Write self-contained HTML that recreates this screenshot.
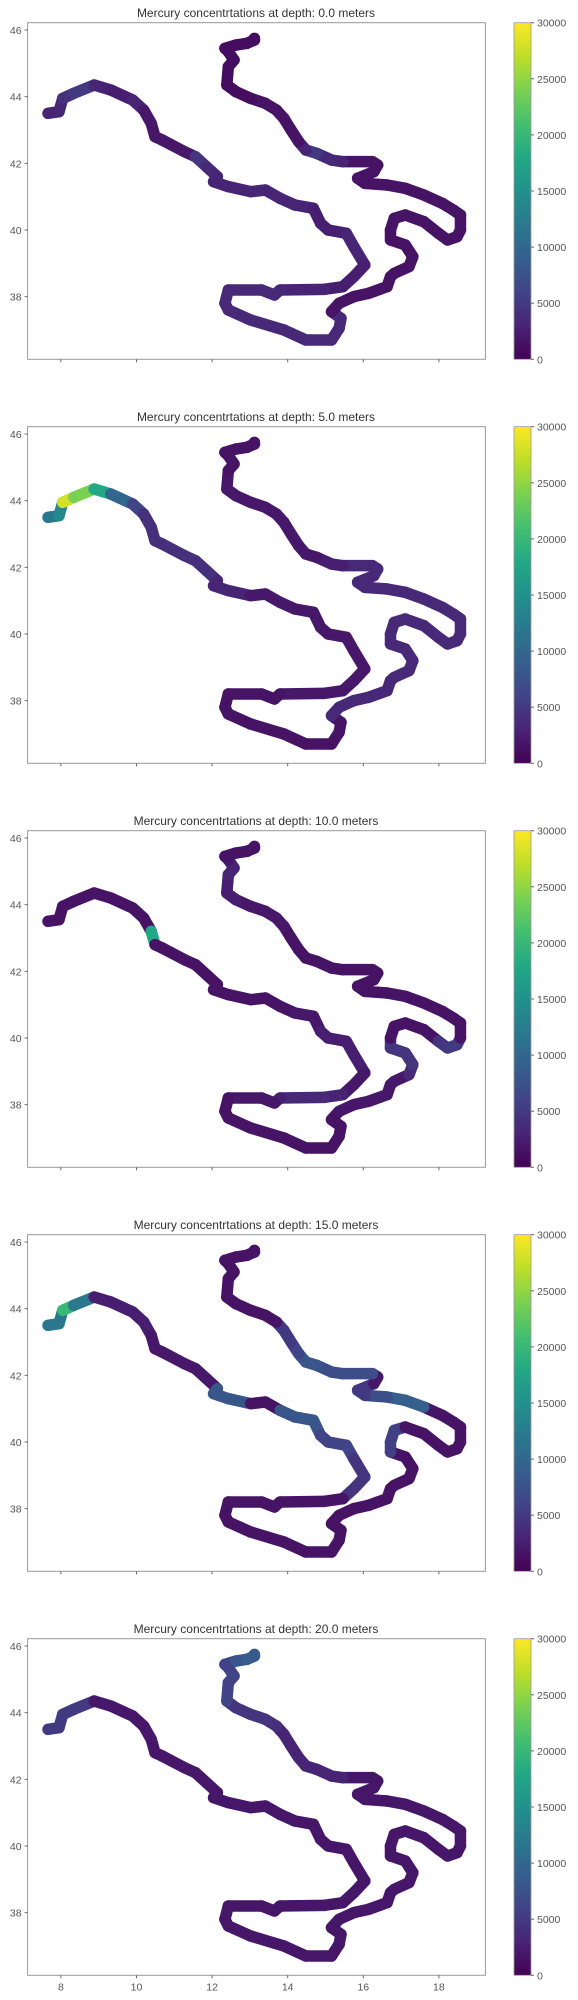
<!DOCTYPE html>
<html><head><meta charset="utf-8"><style>
body{margin:0;background:#fff;}
svg{display:block;font-family:"Liberation Sans","DejaVu Sans",sans-serif;}
</style></head><body>
<svg id="fig" width="578" height="2000" viewBox="0 0 578 2000" xmlns="http://www.w3.org/2000/svg"></svg>
<script>
const lon=[7.66,7.95,8.05,8.34,8.88,9.32,9.90,10.19,10.39,10.49,10.68,11.27,11.56,11.85,12.14,12.04,12.43,13.02,13.41,13.80,14.19,14.68,14.87,15.07,15.55,15.75,16.04,15.75,15.46,14.97,13.80,13.65,13.31,12.43,12.34,12.43,13.02,13.90,14.48,15.16,15.36,15.41,15.16,15.36,15.75,16.14,16.63,16.72,16.82,17.21,17.31,17.11,16.72,16.72,16.82,17.11,17.60,17.99,18.23,18.48,18.57,18.57,18.38,18.09,17.60,17.11,16.63,16.04,15.85,16.28,16.38,16.24,15.46,15.16,14.77,14.48,14.29,14.09,13.90,13.70,13.41,13.02,12.63,12.39,12.43,12.58,12.43,12.34,12.63,12.92,13.12,13.12];
const lat=[43.5,43.55,43.95,44.1,44.35,44.2,43.9,43.6,43.2,42.8,42.7,42.35,42.2,41.9,41.6,41.45,41.3,41.15,41.2,40.95,40.75,40.65,40.2,40.0,39.9,39.5,38.95,38.6,38.3,38.22,38.2,38.05,38.2,38.2,37.8,37.6,37.3,37.0,36.7,36.7,37.05,37.35,37.55,37.8,38.0,38.1,38.3,38.6,38.7,38.9,39.2,39.55,39.7,40.0,40.35,40.45,40.25,39.9,39.7,39.8,40.0,40.45,40.6,40.8,41.05,41.25,41.35,41.4,41.55,41.75,41.95,42.05,42.05,42.1,42.3,42.4,42.65,43.0,43.35,43.6,43.8,43.95,44.15,44.35,44.9,45.1,45.35,45.45,45.55,45.6,45.7,45.75];
const depths=[0.0,5.0,10.0,15.0,20.0];
const hg0=[3000,3000,4000,5000,3000,2500,3000,2000,2000,2000,2000,2000,4500,3500,3000,3000,3000,3000,3000,3000,3000,2500,2500,2500,3000,3000,2500,2500,2500,3000,3500,3500,3500,3500,3500,3500,3500,3500,3500,3500,3500,3500,1500,1500,1500,1500,1500,1500,1500,1500,1500,1500,1500,1500,1500,1500,1500,1500,1500,1500,1500,1500,1500,1500,1500,1500,1500,1500,1500,1500,1500,1500,3000,3500,5000,3000,1500,1500,1500,1500,1500,1000,1000,1000,1000,1000,1000,1000,1000,1000,1000,1000];
const hg5=[12000,14000,28000,24000,18000,10000,6000,4000,4000,4000,4000,4000,4000,4000,3000,3000,3000,2000,2000,2000,2000,2000,2000,2000,2000,2000,2000,2000,2000,2000,1500,1500,1500,1500,1500,1500,1500,1500,1500,1500,1500,1500,3500,3500,3500,3500,3500,3500,3500,3500,3500,3500,3500,3500,3500,3500,3500,3500,3500,3500,3500,3500,3500,3500,3500,3500,3500,3500,3500,3500,3500,3500,2500,2500,2000,2000,2000,2000,2000,2000,2000,2000,2000,2000,1500,1500,1500,1500,1500,1500,1500,1500];
const hg10=[1500,1500,1500,1500,1500,1500,1500,1500,18000,1500,1500,1500,1500,1500,1500,1500,1500,1500,1500,1500,2000,2000,2500,2500,2500,2500,2000,2000,3000,3500,2500,2000,2000,1500,1500,1500,1500,1500,1500,1500,1500,1500,1500,2000,2000,2000,2000,2000,2000,3500,4500,4500,4500,1500,1500,1500,1500,4500,5000,5000,1500,1500,1500,1500,1500,1500,1500,1500,1500,1500,1500,1500,1500,1500,1500,1500,1500,1500,2000,2000,2000,2000,2500,2500,3000,3000,2000,1500,1500,1500,1500,1500];
const hg15=[12000,12000,20000,12000,2500,2500,2500,2500,2000,2000,2000,2000,2000,2000,8000,8000,8000,1500,1500,8000,8000,8000,6000,6000,6000,4500,4500,4500,1500,1500,1500,1500,1500,1500,1500,1500,1500,1500,1500,1500,1500,1500,1500,1500,1500,1500,1500,1500,1500,1500,1500,1500,5500,5500,5500,1500,1500,1500,1500,1500,1500,1500,1500,1500,9000,9000,7000,5000,5000,2000,2000,7000,7000,7000,8000,8000,6000,5000,5000,1500,1500,1500,1500,1500,1500,1500,1500,1500,1500,1500,1500,1500];
const hg20=[5000,5000,5000,5000,2000,2000,2000,2000,2000,2000,2000,2000,2000,2000,1800,1800,1800,1800,1800,1800,1800,1800,1800,1800,1800,1800,1800,1800,1800,1800,1800,1800,1800,1800,1800,1800,1800,1800,1800,1800,1800,1800,1800,1800,1800,1800,1800,1800,1800,1800,1800,1800,1800,1800,1800,1800,1800,1800,1800,1800,1800,1800,1800,1800,1800,1800,1800,1800,1800,1800,1800,1800,3000,3000,3000,3000,3000,3000,3000,4000,4500,4500,4500,6000,6000,6000,6000,6000,8000,8500,8500,8500];
const series=[hg0,hg5,hg10,hg15,hg20];
const xTicks=[8,10,12,14,16,18];
const yTicks=[38,40,42,44,46];
const cTicks=[0,5000,10000,15000,20000,25000,30000];
const vmin=0,vmax=30000;

const NS="http://www.w3.org/2000/svg";
const svg=document.getElementById('fig');
function mk(tag,attrs,parent){const e=document.createElementNS(NS,tag);for(const k in attrs)e.setAttribute(k,attrs[k]);(parent||svg).appendChild(e);return e;}
const vir=["#440154","#482475","#414487","#355f8d","#2a788e","#21918c","#22a884","#44bf70","#7ad151","#bddf26","#fde725"];
function hex(h){return [1,3,5].map(i=>parseInt(h.substr(i,2),16));}
function viridis(t){t=Math.max(0,Math.min(1,t));const f=t*10,i=Math.min(9,Math.floor(f)),r=f-i;const a=hex(vir[i]),b=hex(vir[i+1]);return 'rgb('+a.map((v,k)=>Math.round(v+(b[k]-v)*r)).join(',')+')';}
const AX0=27.6,AX1=485.4,AYT=22.7,AYB=359.3;
const xmin=7.12,xmax=19.23,ymin=36.12,ymax=46.22;
const CB0=514,CB1=531;
const defs=mk('defs',{});
const grad=mk('linearGradient',{id:'vgrad',x1:'0',y1:'1',x2:'0',y2:'0'},defs);
vir.forEach((c,i)=>mk('stop',{offset:(i/10),'stop-color':c},grad));

depths.forEach((d,k)=>{
  const o=k*404;
  const xs=v=>AX0+(v-xmin)/(xmax-xmin)*(AX1-AX0);
  const ys=v=>o+AYB-(v-ymin)/(ymax-ymin)*(AYB-AYT);
  const g=mk('g',{});
  
  
  const t=mk('text',{x:256,y:o+17,'text-anchor':'middle','font-size':'12',fill:'#333'},g);
  t.textContent='Mercury concentrtations at depth: '+d.toFixed(1)+' meters';
  
  
  const tr=mk('g',{'stroke-linecap':'round','stroke-linejoin':'round'},g);
  
  
  const vals=series[k];
  for(let i=0;i<lon.length-1;i++){
    const s=mk('line',{x1:xs(lon[i]),y1:ys(lat[i]),x2:xs(lon[i+1]),y2:ys(lat[i+1]),stroke:viridis((vals[i]-vmin)/(vmax-vmin)),'stroke-width':11.5},tr);
    
    
  }
  const fr=mk('rect',{x:AX0,y:o+AYT,width:AX1-AX0,height:AYB-AYT,fill:'none',stroke:'#999','stroke-width':1},g);
  
  
  yTicks.forEach(v=>{
    mk('line',{x1:AX0-3,x2:AX0,y1:ys(v),y2:ys(v),stroke:'#666'},g);
    const l=mk('text',{x:AX0-6,y:ys(v)+4,'text-anchor':'end','font-size':'10.5',fill:'#555'},g);
    l.textContent=v;
    
    
  });
  xTicks.forEach(v=>{
    mk('line',{x1:xs(v),x2:xs(v),y1:o+AYB,y2:o+AYB+3,stroke:'#666'},g);
    if(k===depths.length-1){
      const l=mk('text',{x:xs(v),y:o+AYB+15,'text-anchor':'middle','font-size':'10.5',fill:'#555'},g);
      l.textContent=v;
      
      
    }
  });
  const cb=mk('rect',{x:CB0,y:o+AYT,width:CB1-CB0,height:AYB-AYT,fill:'url(#vgrad)',stroke:'#999','stroke-width':0.8},g);
  
  
  cTicks.forEach(v=>{
    const y=o+AYB-(v-vmin)/(vmax-vmin)*(AYB-AYT);
    mk('line',{x1:CB1,x2:CB1+3,y1:y,y2:y,stroke:'#666'},g);
    const l=mk('text',{x:CB1+6,y:y+4,'font-size':'10.5',fill:'#555'},g);
    l.textContent=v;
    
    
  });
});
</script>
</body></html>
